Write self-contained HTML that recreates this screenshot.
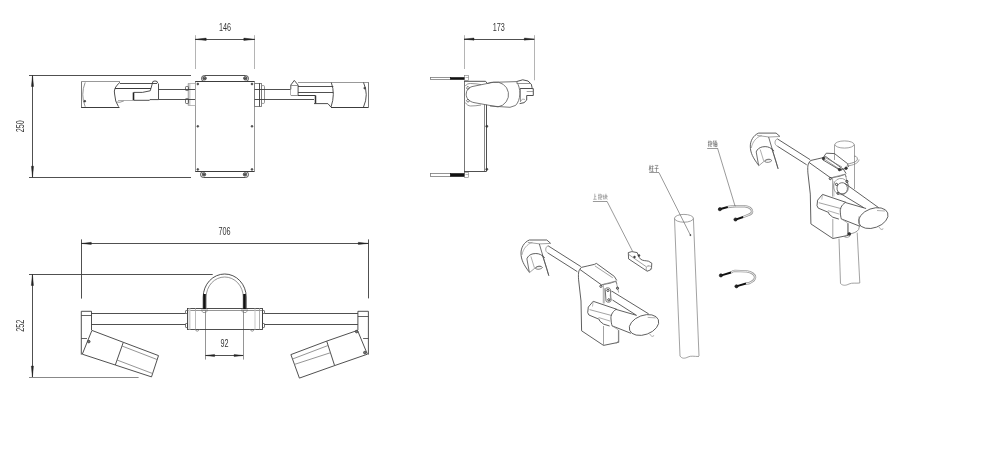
<!DOCTYPE html>
<html><head><meta charset="utf-8"><style>
html,body{margin:0;padding:0;background:#fff;}
svg{display:block;}
text{filter:grayscale(100%);}
</style></head><body>
<svg width="982" height="453" viewBox="0 0 982 453">
<rect width="982" height="453" fill="#fff"/>
<line x1="29" y1="75.5" x2="191" y2="75.5" stroke="#3c3c3c" stroke-width="0.9"/>
<line x1="29" y1="177.5" x2="191" y2="177.5" stroke="#3c3c3c" stroke-width="0.9"/>
<line x1="32.5" y1="75.5" x2="32.5" y2="177.2" stroke="#3c3c3c" stroke-width="0.9"/>
<path d="M32.5,75.5 L33.60,86.50 L31.40,86.50 Z" fill="#222" stroke="#222" stroke-width="0.4"/>
<path d="M32.5,177.2 L31.40,166.20 L33.60,166.20 Z" fill="#222" stroke="#222" stroke-width="0.4"/>
<text transform="translate(23.8,126.3) rotate(-90) scale(0.66,1)" font-family="Liberation Sans" font-size="11" text-anchor="middle" fill="#333" opacity="0.99">250</text>
<line x1="195.5" y1="35.2" x2="195.5" y2="69" stroke="#b4b4b4" stroke-width="1"/>
<line x1="254.5" y1="35.2" x2="254.5" y2="69" stroke="#b4b4b4" stroke-width="1"/>
<line x1="195.2" y1="39.5" x2="254.8" y2="39.5" stroke="#3c3c3c" stroke-width="0.9"/>
<path d="M195.2,39.3 L206.20,38.10 L206.20,40.50 Z" fill="#222" stroke="#222" stroke-width="0.4"/>
<path d="M254.8,39.3 L243.80,40.50 L243.80,38.10 Z" fill="#222" stroke="#222" stroke-width="0.4"/>
<text transform="translate(225,31.4) rotate(0.01) scale(0.66,1)" font-family="Liberation Sans" font-size="11" text-anchor="middle" fill="#333" opacity="0.99">146</text>
<line x1="195.5" y1="81.6" x2="195.5" y2="171.3" stroke="#9a9a9a" stroke-width="1"/>
<line x1="254.5" y1="81.6" x2="254.5" y2="171.3" stroke="#9a9a9a" stroke-width="1"/>
<line x1="195.2" y1="81.5" x2="254.6" y2="81.5" stroke="#3c3c3c" stroke-width="1"/>
<line x1="195.2" y1="171.5" x2="254.6" y2="171.5" stroke="#3c3c3c" stroke-width="1"/>
<rect x="201.5" y="75.5" width="47.0" height="6.0" rx="3" stroke="#3c3c3c" stroke-width="0.9" fill="none"/>
<rect x="200.5" y="171.5" width="48.0" height="6.0" rx="3" stroke="#3c3c3c" stroke-width="0.9" fill="none"/>
<circle cx="204.6" cy="78.3" r="1.7" stroke="#333" stroke-width="0.8" fill="#888"/>
<line x1="203.5" y1="78.5" x2="205.7" y2="78.5" stroke="#222" stroke-width="0.6"/>
<circle cx="245.3" cy="78.3" r="1.7" stroke="#333" stroke-width="0.8" fill="#888"/>
<line x1="244.20000000000002" y1="78.5" x2="246.4" y2="78.5" stroke="#222" stroke-width="0.6"/>
<circle cx="204" cy="174.4" r="1.7" stroke="#333" stroke-width="0.8" fill="#888"/>
<line x1="202.9" y1="174.5" x2="205.1" y2="174.5" stroke="#222" stroke-width="0.6"/>
<circle cx="245" cy="174.4" r="1.7" stroke="#333" stroke-width="0.8" fill="#888"/>
<line x1="243.9" y1="174.5" x2="246.1" y2="174.5" stroke="#222" stroke-width="0.6"/>
<circle cx="197.8" cy="84" r="0.9" stroke="#3c3c3c" stroke-width="0.7" fill="#555"/>
<circle cx="252" cy="84" r="0.9" stroke="#3c3c3c" stroke-width="0.7" fill="#555"/>
<circle cx="197.8" cy="126.3" r="0.9" stroke="#3c3c3c" stroke-width="0.7" fill="#555"/>
<circle cx="252" cy="126.3" r="0.9" stroke="#3c3c3c" stroke-width="0.7" fill="#555"/>
<circle cx="197.8" cy="169.4" r="0.9" stroke="#3c3c3c" stroke-width="0.7" fill="#555"/>
<circle cx="252" cy="169.4" r="0.9" stroke="#3c3c3c" stroke-width="0.7" fill="#555"/>
<rect x="187.5" y="83.5" width="3.0" height="22.0" rx="0" stroke="#ccc" stroke-width="0" fill="#cfcfcf"/>
<rect x="188.5" y="83.5" width="7.0" height="22.0" rx="0" stroke="#aaa" stroke-width="0.8" fill="none"/>
<rect x="185.5" y="86.5" width="3.0" height="4.0" rx="0.8" stroke="#3c3c3c" stroke-width="0.7" fill="none"/>
<rect x="185.5" y="98.5" width="3.0" height="5.0" rx="0.8" stroke="#3c3c3c" stroke-width="0.7" fill="none"/>
<rect x="254.5" y="83.5" width="7.0" height="23.0" rx="0" stroke="#7a7a7a" stroke-width="0.9" fill="none"/>
<line x1="259.5" y1="83.2" x2="259.5" y2="106.5" stroke="#3c3c3c" stroke-width="0.9"/>
<rect x="261.5" y="85.5" width="3.0" height="18.0" rx="1.2" stroke="#7a7a7a" stroke-width="0.8" fill="none"/>
<line x1="158.6" y1="89.5" x2="195" y2="89.5" stroke="#3c3c3c" stroke-width="0.9"/>
<line x1="158.6" y1="99.5" x2="195" y2="99.5" stroke="#3c3c3c" stroke-width="0.9"/>
<line x1="254.6" y1="89.5" x2="290.8" y2="89.5" stroke="#3c3c3c" stroke-width="0.9"/>
<line x1="254.6" y1="99.5" x2="314" y2="99.5" stroke="#3c3c3c" stroke-width="0.9"/>
<line x1="81.5" y1="81.6" x2="81.5" y2="107.3" stroke="#7a7a7a" stroke-width="1"/>
<line x1="81.1" y1="81.5" x2="120" y2="81.5" stroke="#999" stroke-width="1"/>
<line x1="81.1" y1="107.5" x2="119.5" y2="107.5" stroke="#3c3c3c" stroke-width="1"/>
<path d="M85.2,82.4 Q80.3,94.5 85.2,106.8" stroke="#7a7a7a" stroke-width="0.8" fill="none"/>
<circle cx="84.8" cy="101.2" r="0.9" stroke="#3c3c3c" stroke-width="0.7" fill="#444"/>
<path d="M120,82.3 Q113,88 114.6,94 Q115,102 118.5,106.7" stroke="#3c3c3c" stroke-width="0.9" fill="none"/>
<path d="M116,102 Q120,103 123.9,100.9" stroke="#7a7a7a" stroke-width="0.8" fill="none"/>
<line x1="120" y1="83.5" x2="157.1" y2="83.5" stroke="#3c3c3c" stroke-width="0.9"/>
<line x1="115" y1="88.5" x2="151" y2="88.5" stroke="#3c3c3c" stroke-width="1"/>
<path d="M151,88.3 L152.9,81.5 Q155,80.4 157.1,81.5 L157.6,83.1" stroke="#3c3c3c" stroke-width="0.9" fill="none"/>
<line x1="158.5" y1="83.5" x2="158.5" y2="99.6" stroke="#3c3c3c" stroke-width="0.9"/>
<path d="M133.6,92.4 L142.4,92.4 L150.2,90.8 L151,88.3" stroke="#3c3c3c" stroke-width="0.9" fill="none"/>
<line x1="133.5" y1="92.4" x2="133.5" y2="100.3" stroke="#222" stroke-width="1.6"/>
<path d="M133.6,100.3 L149.4,100.3 L149.9,99.6 L158.6,99.6" stroke="#3c3c3c" stroke-width="0.9" fill="none"/>
<line x1="118" y1="100.5" x2="133.6" y2="100.5" stroke="#999" stroke-width="0.8"/>
<path d="M290.8,89.3 L290.8,85 L294.3,80.4 L298.1,85 L298.1,95.3" stroke="#3c3c3c" stroke-width="0.9" fill="none"/>
<line x1="290.8" y1="85.5" x2="298.1" y2="85.5" stroke="#7a7a7a" stroke-width="0.8"/>
<line x1="290.5" y1="89.3" x2="290.5" y2="95.1" stroke="#999" stroke-width="0.8"/>
<line x1="290.8" y1="95.5" x2="298" y2="95.5" stroke="#7a7a7a" stroke-width="0.8"/>
<line x1="298" y1="95.5" x2="315.5" y2="95.5" stroke="#3c3c3c" stroke-width="1"/>
<line x1="315.5" y1="95.5" x2="315.5" y2="103.6" stroke="#333" stroke-width="1.5"/>
<path d="M314,103.6 L327.9,103.6 L331,107.2" stroke="#3c3c3c" stroke-width="0.9" fill="none"/>
<line x1="298" y1="82.5" x2="368.6" y2="82.5" stroke="#999" stroke-width="1.2"/>
<line x1="298" y1="86.5" x2="333.3" y2="86.5" stroke="#3c3c3c" stroke-width="0.9"/>
<line x1="298" y1="92.5" x2="333.3" y2="92.5" stroke="#3c3c3c" stroke-width="0.9"/>
<path d="M331.3,82.5 Q335.5,94 331,107" stroke="#3c3c3c" stroke-width="0.9" fill="none"/>
<line x1="331" y1="107.5" x2="368.6" y2="107.5" stroke="#3c3c3c" stroke-width="1"/>
<line x1="368.5" y1="82.2" x2="368.5" y2="107.5" stroke="#7a7a7a" stroke-width="1"/>
<path d="M363.5,82.5 Q369,94.6 363.5,107" stroke="#3c3c3c" stroke-width="0.9" fill="none"/>
<circle cx="364.7" cy="88.1" r="0.9" stroke="#3c3c3c" stroke-width="0.7" fill="#444"/>
<line x1="464.5" y1="35.2" x2="464.5" y2="69" stroke="#b4b4b4" stroke-width="1"/>
<line x1="534.5" y1="35.2" x2="534.5" y2="80.3" stroke="#b4b4b4" stroke-width="1"/>
<line x1="464" y1="39.5" x2="534.3" y2="39.5" stroke="#3c3c3c" stroke-width="0.9"/>
<path d="M464,39.1 L474.00,38.00 L474.00,40.20 Z" fill="#222" stroke="#222" stroke-width="0.4"/>
<path d="M534.3,39.1 L524.30,40.20 L524.30,38.00 Z" fill="#222" stroke="#222" stroke-width="0.4"/>
<text transform="translate(498.7,31.4) rotate(0.01) scale(0.66,1)" font-family="Liberation Sans" font-size="11" text-anchor="middle" fill="#333" opacity="0.99">173</text>
<line x1="464.5" y1="81" x2="464.5" y2="174" stroke="#777" stroke-width="1"/>
<line x1="484.5" y1="104.7" x2="484.5" y2="171.3" stroke="#7a7a7a" stroke-width="0.9"/>
<line x1="486.5" y1="104.7" x2="486.5" y2="171.3" stroke="#3c3c3c" stroke-width="0.9"/>
<line x1="464.1" y1="171.5" x2="486.6" y2="171.5" stroke="#3c3c3c" stroke-width="0.9"/>
<circle cx="486.8" cy="126.3" r="1.1" stroke="#333" stroke-width="0.5" fill="#333"/>
<circle cx="486.8" cy="169.3" r="1.1" stroke="#333" stroke-width="0.5" fill="#333"/>
<rect x="430.5" y="77.5" width="20.0" height="2.0" rx="0" stroke="#7a7a7a" stroke-width="0.8" fill="none"/>
<rect x="450.5" y="77.5" width="14.0" height="2.0" rx="0" stroke="#111" stroke-width="0.6" fill="#111"/>
<rect x="430.5" y="173.5" width="20.0" height="3.0" rx="0" stroke="#7a7a7a" stroke-width="0.8" fill="none"/>
<rect x="450.5" y="173.5" width="14.0" height="3.0" rx="0" stroke="#111" stroke-width="0.6" fill="#111"/>
<rect x="464.5" y="75.5" width="4.0" height="5.0" rx="0" stroke="#7a7a7a" stroke-width="0.6" fill="none"/>
<line x1="465.5" y1="77.5" x2="468.5" y2="77.5" stroke="#7a7a7a" stroke-width="0.5"/>
<rect x="464.5" y="172.5" width="4.0" height="5.0" rx="0" stroke="#7a7a7a" stroke-width="0.6" fill="none"/>
<line x1="465.5" y1="174.5" x2="468.5" y2="174.5" stroke="#7a7a7a" stroke-width="0.5"/>
<path d="M464.1,81.3 L485.6,81.3 L487.4,83.5" stroke="#3c3c3c" stroke-width="0.9" fill="none"/>
<path d="M465.3,86.1 C466.5,84 468.5,83.5 470.6,83.5 C474,83.5 478,84 481,84.6" stroke="#7a7a7a" stroke-width="0.8" fill="none"/>
<path d="M465.3,102.5 C466.5,104.5 468.5,106 470.6,106 C474,106 478,105.6 481,105" stroke="#7a7a7a" stroke-width="0.8" fill="none"/>
<path d="M468,86.3 L469.6,87.9 L468,89.5 L466.4,87.9 Z" stroke="#333" stroke-width="0.7" fill="none"/>
<path d="M468,99.1 L469.6,100.7 L468,102.3 L466.4,100.7 Z" stroke="#333" stroke-width="0.7" fill="none"/>
<path d="M493.6,82.2 A12.6,12.4 0 0 1 498,106.9 L474,102.6 C469,101.5 466.2,98.5 466.2,94.1 C466.2,90 469,87.3 472,86.6 Z" stroke="#555" stroke-width="0.8" fill="none"/>
<path d="M487.4,83.5 L491,82.4 L516.5,81.6 C518.8,85 519.9,89 519.8,94 C519.6,99 518.3,102.5 515.6,105.4 L510,107.3 L490,106" stroke="#555" stroke-width="0.8" fill="none"/>
<path d="M516.5,81.6 L522.7,79.8 L528,81 L531.3,84.2 L532,87.3 L532,88.6 L533.3,88.6 L533.3,95.5 L526.7,95.5 L526.7,100.1 L524,102.7 L519.6,103.6" stroke="#3c3c3c" stroke-width="0.9" fill="none"/>
<line x1="516.5" y1="83.5" x2="530.7" y2="83.5" stroke="#7a7a7a" stroke-width="0.8"/>
<line x1="520" y1="88.5" x2="532" y2="88.5" stroke="#3c3c3c" stroke-width="0.9"/>
<line x1="526.7" y1="91.5" x2="533.3" y2="91.5" stroke="#7a7a7a" stroke-width="0.7"/>
<line x1="520.5" y1="88.6" x2="520.5" y2="101.9" stroke="#7a7a7a" stroke-width="0.8"/>
<path d="M520.5,101.5 L522.5,99 L525,99.5" stroke="#7a7a7a" stroke-width="0.6" fill="none"/>
<line x1="81.5" y1="239.4" x2="81.5" y2="298.6" stroke="#3c3c3c" stroke-width="0.9"/>
<line x1="368.5" y1="239.4" x2="368.5" y2="298.4" stroke="#3c3c3c" stroke-width="0.9"/>
<line x1="81.3" y1="243.5" x2="368.3" y2="243.5" stroke="#3c3c3c" stroke-width="0.9"/>
<path d="M81.3,243.4 L91.30,242.30 L91.30,244.50 Z" fill="#222" stroke="#222" stroke-width="0.4"/>
<path d="M368.3,243.4 L358.30,244.50 L358.30,242.30 Z" fill="#222" stroke="#222" stroke-width="0.4"/>
<text transform="translate(224.5,235.0) rotate(0.01) scale(0.66,1)" font-family="Liberation Sans" font-size="11" text-anchor="middle" fill="#333" opacity="0.99">706</text>
<line x1="29" y1="274.5" x2="212.7" y2="274.5" stroke="#3c3c3c" stroke-width="0.9"/>
<line x1="29" y1="377.5" x2="138.6" y2="377.5" stroke="#7a7a7a" stroke-width="0.9"/>
<line x1="32.5" y1="274.5" x2="32.5" y2="377" stroke="#3c3c3c" stroke-width="0.9"/>
<path d="M32.4,274.5 L33.50,285.50 L31.30,285.50 Z" fill="#222" stroke="#222" stroke-width="0.4"/>
<path d="M32.4,377 L31.30,366.00 L33.50,366.00 Z" fill="#222" stroke="#222" stroke-width="0.4"/>
<text transform="translate(24.2,325.8) rotate(-90) scale(0.66,1)" font-family="Liberation Sans" font-size="11" text-anchor="middle" fill="#333" opacity="0.99">252</text>
<line x1="205.5" y1="310" x2="205.5" y2="359.6" stroke="#7a7a7a" stroke-width="0.8"/>
<line x1="243.5" y1="310" x2="243.5" y2="359.6" stroke="#7a7a7a" stroke-width="0.8"/>
<line x1="205.6" y1="355.5" x2="243.1" y2="355.5" stroke="#3c3c3c" stroke-width="0.9"/>
<path d="M205.6,355.5 L214.60,354.40 L214.60,356.60 Z" fill="#222" stroke="#222" stroke-width="0.4"/>
<path d="M243.1,355.5 L234.10,356.60 L234.10,354.40 Z" fill="#222" stroke="#222" stroke-width="0.4"/>
<text transform="translate(224.6,346.9) rotate(0.01) scale(0.66,1)" font-family="Liberation Sans" font-size="11" text-anchor="middle" fill="#333" opacity="0.99">92</text>
<rect x="187.5" y="308.5" width="75.0" height="21.0" rx="0" stroke="#3c3c3c" stroke-width="0.9" fill="none"/>
<line x1="187.6" y1="310.5" x2="262.2" y2="310.5" stroke="#7a7a7a" stroke-width="0.8"/>
<rect x="188.5" y="308.5" width="2.0" height="21.0" rx="0" stroke="#ccc" stroke-width="0" fill="#d2d2d2"/>
<line x1="195.5" y1="308.2" x2="195.5" y2="329.4" stroke="#aaa" stroke-width="0.8"/>
<rect x="254.5" y="308.5" width="1.0" height="21.0" rx="0" stroke="#ccc" stroke-width="0" fill="#c8c8c8"/>
<line x1="259.5" y1="308.2" x2="259.5" y2="329.4" stroke="#999" stroke-width="0.8"/>
<path d="M195,329.4 Q197.2,333 199.5,329.4" stroke="#7a7a7a" stroke-width="0.8" fill="none"/>
<path d="M250,329.4 Q252.2,333 254.5,329.4" stroke="#7a7a7a" stroke-width="0.8" fill="none"/>
<path d="M203.2,309 L203.2,297 A21.5,23 0 0 1 246.2,297 L246.2,309" stroke="#3c3c3c" stroke-width="0.9" fill="none"/>
<path d="M206.2,309 L206.2,297 A18.5,20 0 0 1 243.2,297 L243.2,309" stroke="#7a7a7a" stroke-width="0.8" fill="none"/>
<line x1="204.5" y1="294" x2="204.5" y2="309" stroke="#111" stroke-width="2.6"/>
<line x1="244.5" y1="294" x2="244.5" y2="309" stroke="#111" stroke-width="2.6"/>
<path d="M201,310 L208,310 L206,312.5 L203,312.5 Z" stroke="#7a7a7a" stroke-width="0.7" fill="none"/>
<path d="M241,310 L248,310 L246,312.5 L243,312.5 Z" stroke="#7a7a7a" stroke-width="0.7" fill="none"/>
<rect x="185.5" y="310.5" width="2.0" height="3.0" rx="0.6" stroke="#3c3c3c" stroke-width="0.7" fill="none"/>
<rect x="185.5" y="323.5" width="2.0" height="4.0" rx="0.6" stroke="#3c3c3c" stroke-width="0.7" fill="none"/>
<rect x="262.5" y="310.5" width="2.0" height="3.0" rx="0.6" stroke="#3c3c3c" stroke-width="0.7" fill="none"/>
<rect x="262.5" y="323.5" width="2.0" height="4.0" rx="0.6" stroke="#3c3c3c" stroke-width="0.7" fill="none"/>
<line x1="262.5" y1="313.6" x2="262.5" y2="323.2" stroke="#3c3c3c" stroke-width="0.8"/>
<line x1="91.5" y1="313.5" x2="185.6" y2="313.5" stroke="#3c3c3c" stroke-width="0.9"/>
<line x1="91.5" y1="324.5" x2="185.6" y2="324.5" stroke="#3c3c3c" stroke-width="0.9"/>
<line x1="264.4" y1="313.5" x2="357.9" y2="313.5" stroke="#3c3c3c" stroke-width="0.9"/>
<line x1="264.4" y1="324.5" x2="357.9" y2="324.5" stroke="#3c3c3c" stroke-width="0.9"/>
<path d="M81.3,354.6 L81.3,311.3 L91.5,311.3 L91.5,330" stroke="#3c3c3c" stroke-width="0.9" fill="none"/>
<line x1="81.3" y1="315.5" x2="91.5" y2="315.5" stroke="#3c3c3c" stroke-width="0.8"/>
<line x1="81.3" y1="338.5" x2="87" y2="338.5" stroke="#3c3c3c" stroke-width="0.8"/>
<path d="M91.9,330.4 L123.3,342.3 L115.3,365 L82.3,354.2 Z" stroke="#3c3c3c" stroke-width="0.9" fill="none"/>
<path d="M123.3,342.3 L158.5,355.6 L151.5,376.9 L115.3,365" stroke="#3c3c3c" stroke-width="0.9" fill="none"/>
<line x1="122" y1="346" x2="157" y2="359.5" stroke="#7a7a7a" stroke-width="0.8"/>
<line x1="117" y1="360" x2="152.5" y2="373.5" stroke="#7a7a7a" stroke-width="0.8"/>
<circle cx="88.8" cy="341.6" r="1.3" stroke="#333" stroke-width="0.7" fill="#777"/>
<path d="M368.4,354.6 L368.4,311.3 L357.9,311.3 L357.9,330" stroke="#3c3c3c" stroke-width="0.9" fill="none"/>
<line x1="357.9" y1="316.5" x2="368.4" y2="316.5" stroke="#3c3c3c" stroke-width="0.8"/>
<line x1="363.1" y1="338.5" x2="368.4" y2="338.5" stroke="#3c3c3c" stroke-width="0.8"/>
<path d="M357.5,330.4 L367.4,354.2 L334.6,365.6 L326.7,341.1 Z" stroke="#3c3c3c" stroke-width="0.9" fill="none"/>
<path d="M326.7,341.1 L290.9,354.6 L299.4,378.1 L334.6,365.6" stroke="#3c3c3c" stroke-width="0.9" fill="none"/>
<line x1="292.5" y1="359" x2="328" y2="345.5" stroke="#7a7a7a" stroke-width="0.8"/>
<line x1="294.2" y1="364.5" x2="330.8" y2="352.6" stroke="#7a7a7a" stroke-width="0.8"/>
<circle cx="356.6" cy="331.6" r="1.3" stroke="#333" stroke-width="0.7" fill="#777"/>
<circle cx="364.8" cy="352.6" r="1.3" stroke="#333" stroke-width="0.7" fill="#777"/>
<path d="M529.4,240 L546.8,240 L550.7,243.4" stroke="#4e4e4e" stroke-width="0.9" fill="none"/>
<path d="M527.9,242.4 L539.8,243.9 L550.7,243.4" stroke="#8c8c8c" stroke-width="0.8" fill="none"/>
<path d="M529.4,240 C524,242 521,248 521,253 C521,260 524,265 528.9,271.7" stroke="#4e4e4e" stroke-width="0.9" fill="none"/>
<path d="M532.4,242.4 C527,244 523,249 522,254.9" stroke="#8c8c8c" stroke-width="0.7" fill="none"/>
<path d="M526.9,258.8 C528,256 530,254.5 533,253.8 C537,253 540,254 542,255.5 L544.8,257.8" stroke="#4e4e4e" stroke-width="0.9" fill="none"/>
<path d="M526.9,258.8 L529.4,272.7" stroke="#4e4e4e" stroke-width="0.8" fill="none"/>
<path d="M530.9,256.4 L534.4,267.8" stroke="#8c8c8c" stroke-width="0.7" fill="none"/>
<path d="M529.4,272.7 L536.4,266.8 L541,266.5" stroke="#8c8c8c" stroke-width="0.8" fill="none"/>
<path d="M535.5,268.5 C537,265.5 541,265.5 542.5,267.5 C541,269.5 537,269.8 535.5,268.5" stroke="#4e4e4e" stroke-width="0.7" fill="none"/>
<path d="M539.3,243.9 L548.8,275.7" stroke="#4e4e4e" stroke-width="0.8" fill="none"/>
<path d="M542.3,254.9 L546.8,268.8 L548.8,275.7" stroke="#4e4e4e" stroke-width="0.7" fill="none"/>
<path d="M548.1,245.8 C545.3,246.6 544.6,251.6 548.1,253.1" stroke="#8c8c8c" stroke-width="0.8" fill="none"/>
<path d="M548.1,245.8 L580.9,266.6" stroke="#4e4e4e" stroke-width="0.9" fill="none"/>
<path d="M548.1,253.1 L577.4,271.7" stroke="#4e4e4e" stroke-width="0.9" fill="none"/>
<path d="M579.8,269.4 L581.3,267.4 L587.8,265.9 L594.4,264.4 L596.4,263.4 L614.3,276.4 L616.8,280.5" stroke="#4e4e4e" stroke-width="0.9" fill="none"/>
<path d="M594.9,265.9 L612.8,277.8" stroke="#8c8c8c" stroke-width="0.8" fill="none"/>
<path d="M579.8,269.4 L601.4,284.8" stroke="#4e4e4e" stroke-width="0.9" fill="none"/>
<path d="M601.4,284.8 L609.8,283.3 L615.8,281.3 L616.8,283.8" stroke="#4e4e4e" stroke-width="0.8" fill="none"/>
<path d="M579.8,269.4 C578.5,271 578.2,274 578.6,279.8 L581,301 L581.6,330.8" stroke="#4e4e4e" stroke-width="0.9" fill="none"/>
<path d="M581.6,330.8 L603.5,345.4 L618.7,342.3 L618.7,330.2" stroke="#4e4e4e" stroke-width="0.9" fill="none"/>
<path d="M603.5,345.4 L603.5,326" stroke="#8c8c8c" stroke-width="0.8" fill="none"/>
<path d="M603.3,284.3 L603.3,303.5" stroke="#8c8c8c" stroke-width="0.8" fill="none"/>
<path d="M604.6,288 L604.6,303.5" stroke="#b4b4b4" stroke-width="0.8" fill="none"/>
<path d="M603.3,284.3 L616,281 L618.7,292.6" stroke="#8c8c8c" stroke-width="0.8" fill="none"/>
<path d="M605.2,289.5 C605.2,287.5 609.5,287.3 610.3,289.2 L611,300.5 C611,302.5 606.5,302.8 606,300.8 Z" stroke="#4e4e4e" stroke-width="0.8" fill="none"/>
<path d="M611.5,291.2 C609.8,293.5 609.8,297.5 611.5,299.8" stroke="#8c8c8c" stroke-width="0.7" fill="none"/>
<path d="M606.8,290.4 a1.1,1.1 0 1 0 2.2,0 a1.1,1.1 0 1 0 -2.2,0 Z" stroke="#222" stroke-width="0.8" fill="none"/>
<path d="M607.6999999999999,299.8 a1.1,1.1 0 1 0 2.2,0 a1.1,1.1 0 1 0 -2.2,0 Z" stroke="#222" stroke-width="0.8" fill="none"/>
<path d="M616.4,288.2 a1.1,1.1 0 1 0 2.2,0 a1.1,1.1 0 1 0 -2.2,0 Z" stroke="#222" stroke-width="0.8" fill="none"/>
<path d="M599.8,286.3 a1.1,1.1 0 1 0 2.2,0 a1.1,1.1 0 1 0 -2.2,0 Z" stroke="#222" stroke-width="0.8" fill="none"/>
<path d="M611.6,291 L648.7,313.9" stroke="#4e4e4e" stroke-width="0.9" fill="none"/>
<path d="M612.5,300 L635.8,314.9" stroke="#4e4e4e" stroke-width="0.9" fill="none"/>
<path d="M588.3,307.1 L593.2,301.3 L616.8,309.3" stroke="#4e4e4e" stroke-width="0.9" fill="none"/>
<path d="M588.3,307.1 L587.7,312.6 L588.9,315 L599.2,319.3 L599.8,321.1 L603.5,324.1 L609.6,326" stroke="#4e4e4e" stroke-width="0.9" fill="none"/>
<path d="M589.5,309.6 L612,315.6" stroke="#8c8c8c" stroke-width="0.8" fill="none"/>
<path d="M598.6,317.5 L610.2,321.1" stroke="#8c8c8c" stroke-width="0.7" fill="none"/>
<path d="M593.2,301.3 L592.5,306.5" stroke="#8c8c8c" stroke-width="0.6" fill="none"/>
<path d="M616,309.4 L636.8,315.4" stroke="#4e4e4e" stroke-width="0.9" fill="none"/>
<path d="M616,309.4 C612,312 610.5,316 611,319 C611.2,322 611.5,324 612,325.8 L630.9,333.3" stroke="#4e4e4e" stroke-width="0.9" fill="none"/>
<path d="M612,325.8 L618,329.6" stroke="#8c8c8c" stroke-width="0.7" fill="none"/>
<path d="M658.38,319.77 A15.3,9.6 -20 1 1 629.62,330.23 A15.3,9.6 -20 1 1 658.38,319.77 Z" stroke="#4e4e4e" stroke-width="0.9" fill="none"/>
<path d="M647.7,317.4 L655.7,317.9" stroke="#8c8c8c" stroke-width="0.7" fill="none"/>
<path d="M649.7,333.8 C651,337 654,337 653.7,335.3" stroke="#8c8c8c" stroke-width="0.7" fill="none"/>
<path d="M618.4,329.8 L618.4,340.7 L616,343.7" stroke="#8c8c8c" stroke-width="0.7" fill="none"/>
<g transform="translate(229.3,-106.9)">
<path d="M529.4,240 L546.8,240 L550.7,243.4" stroke="#4e4e4e" stroke-width="0.9" fill="none"/>
<path d="M527.9,242.4 L539.8,243.9 L550.7,243.4" stroke="#8c8c8c" stroke-width="0.8" fill="none"/>
<path d="M529.4,240 C524,242 521,248 521,253 C521,260 524,265 528.9,271.7" stroke="#4e4e4e" stroke-width="0.9" fill="none"/>
<path d="M532.4,242.4 C527,244 523,249 522,254.9" stroke="#8c8c8c" stroke-width="0.7" fill="none"/>
<path d="M526.9,258.8 C528,256 530,254.5 533,253.8 C537,253 540,254 542,255.5 L544.8,257.8" stroke="#4e4e4e" stroke-width="0.9" fill="none"/>
<path d="M526.9,258.8 L529.4,272.7" stroke="#4e4e4e" stroke-width="0.8" fill="none"/>
<path d="M530.9,256.4 L534.4,267.8" stroke="#8c8c8c" stroke-width="0.7" fill="none"/>
<path d="M529.4,272.7 L536.4,266.8 L541,266.5" stroke="#8c8c8c" stroke-width="0.8" fill="none"/>
<path d="M535.5,268.5 C537,265.5 541,265.5 542.5,267.5 C541,269.5 537,269.8 535.5,268.5" stroke="#4e4e4e" stroke-width="0.7" fill="none"/>
<path d="M539.3,243.9 L548.8,275.7" stroke="#4e4e4e" stroke-width="0.8" fill="none"/>
<path d="M542.3,254.9 L546.8,268.8 L548.8,275.7" stroke="#4e4e4e" stroke-width="0.7" fill="none"/>
<path d="M548.1,245.8 C545.3,246.6 544.6,251.6 548.1,253.1" stroke="#8c8c8c" stroke-width="0.8" fill="none"/>
<path d="M548.1,245.8 L580.9,266.6" stroke="#4e4e4e" stroke-width="0.9" fill="none"/>
<path d="M548.1,253.1 L577.4,271.7" stroke="#4e4e4e" stroke-width="0.9" fill="none"/>
<path d="M579.8,269.4 L581.3,267.4 L587.8,265.9 L594.4,264.4 L596.4,263.4 L614.3,276.4 L616.8,280.5" stroke="#4e4e4e" stroke-width="0.9" fill="none"/>
<path d="M594.9,265.9 L612.8,277.8" stroke="#8c8c8c" stroke-width="0.8" fill="none"/>
<path d="M579.8,269.4 L601.4,284.8" stroke="#4e4e4e" stroke-width="0.9" fill="none"/>
<path d="M601.4,284.8 L609.8,283.3 L615.8,281.3 L616.8,283.8" stroke="#4e4e4e" stroke-width="0.8" fill="none"/>
<path d="M579.8,269.4 C578.5,271 578.2,274 578.6,279.8 L581,301 L581.6,330.8" stroke="#4e4e4e" stroke-width="0.9" fill="none"/>
<path d="M581.6,330.8 L603.5,345.4 L618.7,342.3 L618.7,330.2" stroke="#4e4e4e" stroke-width="0.9" fill="none"/>
<path d="M603.5,345.4 L603.5,326" stroke="#8c8c8c" stroke-width="0.8" fill="none"/>
<path d="M603.3,284.3 L603.3,303.5" stroke="#8c8c8c" stroke-width="0.8" fill="none"/>
<path d="M604.6,288 L604.6,303.5" stroke="#b4b4b4" stroke-width="0.8" fill="none"/>
<path d="M603.3,284.3 L616,281 L618.7,292.6" stroke="#8c8c8c" stroke-width="0.8" fill="none"/>
<path d="M613.22,301.58 A8.2,7.6 80 1 1 610.38,285.42 A8.2,7.6 80 1 1 613.22,301.58 Z" stroke="#8c8c8c" stroke-width="0.8" fill="none"/>
<path d="M613.87,300.71 A5.6,5.0 80 1 1 611.93,289.69 A5.6,5.0 80 1 1 613.87,300.71 Z" stroke="#4e4e4e" stroke-width="0.8" fill="none"/>
<path d="M599.9,285.5 a1.1,1.1 0 1 0 2.2,0 a1.1,1.1 0 1 0 -2.2,0 Z" stroke="#222" stroke-width="0.8" fill="none"/>
<path d="M616.5,288.3 a1.1,1.1 0 1 0 2.2,0 a1.1,1.1 0 1 0 -2.2,0 Z" stroke="#222" stroke-width="0.8" fill="none"/>
<path d="M606.1,291.3 a1.1,1.1 0 1 0 2.2,0 a1.1,1.1 0 1 0 -2.2,0 Z" stroke="#222" stroke-width="0.8" fill="none"/>
<path d="M607.6,300.2 a1.1,1.1 0 1 0 2.2,0 a1.1,1.1 0 1 0 -2.2,0 Z" stroke="#222" stroke-width="0.8" fill="none"/>
<path d="M615.6,290.3 L649.4,314.6" stroke="#4e4e4e" stroke-width="0.9" fill="none"/>
<path d="M611.6,300.7 L634.5,314.6" stroke="#4e4e4e" stroke-width="0.9" fill="none"/>
<path d="M588.3,307.1 L593.2,301.3 L616.8,309.3" stroke="#4e4e4e" stroke-width="0.9" fill="none"/>
<path d="M588.3,307.1 L587.7,312.6 L588.9,315 L599.2,319.3 L599.8,321.1 L603.5,324.1 L609.6,326" stroke="#4e4e4e" stroke-width="0.9" fill="none"/>
<path d="M589.5,309.6 L612,315.6" stroke="#8c8c8c" stroke-width="0.8" fill="none"/>
<path d="M598.6,317.5 L610.2,321.1" stroke="#8c8c8c" stroke-width="0.7" fill="none"/>
<path d="M593.2,301.3 L592.5,306.5" stroke="#8c8c8c" stroke-width="0.6" fill="none"/>
<path d="M616,309.4 L636.8,315.4" stroke="#4e4e4e" stroke-width="0.9" fill="none"/>
<path d="M616,309.4 C612,312 610.5,316 611,319 C611.2,322 611.5,324 612,325.8 L630.9,333.3" stroke="#4e4e4e" stroke-width="0.9" fill="none"/>
<path d="M612,325.8 L618,329.6" stroke="#8c8c8c" stroke-width="0.7" fill="none"/>
<path d="M658.38,319.77 A15.3,9.6 -20 1 1 629.62,330.23 A15.3,9.6 -20 1 1 658.38,319.77 Z" stroke="#4e4e4e" stroke-width="0.9" fill="none"/>
<path d="M647.7,317.4 L655.7,317.9" stroke="#8c8c8c" stroke-width="0.7" fill="none"/>
<path d="M649.7,333.8 C651,337 654,337 653.7,335.3" stroke="#8c8c8c" stroke-width="0.7" fill="none"/>
<path d="M618.4,329.8 L618.4,340.7 L616,343.7" stroke="#8c8c8c" stroke-width="0.7" fill="none"/>
</g>
<path d="M834.9,144.5 A9.6,3.6 0 0 1 854.1,144.5 A9.6,3.6 0 0 1 834.9,144.5 Z" stroke="#8a8a8a" stroke-width="0.8" fill="none"/>
<line x1="834.5" y1="144.5" x2="834.5" y2="160" stroke="#8a8a8a" stroke-width="0.8"/>
<line x1="854.5" y1="144.5" x2="854.5" y2="189" stroke="#8a8a8a" stroke-width="0.8"/>
<line x1="839" y1="238.7" x2="840.5" y2="283.5" stroke="#8a8a8a" stroke-width="0.8"/>
<line x1="857.2" y1="232.6" x2="859.8" y2="283" stroke="#8a8a8a" stroke-width="0.8"/>
<path d="M840.5,283.5 C843,286 846,285.5 849,284 C852,282.5 856,283.5 859.8,283" stroke="#8a8a8a" stroke-width="0.8" fill="none"/>
<path d="M824.3,155.9 L826.3,153.2 L834.5,153.6 L847.5,163.6 L848.5,167" stroke="#3c3c3c" stroke-width="0.8" fill="none"/>
<path d="M824.3,155.9 L822.9,159.9 L839.5,169.8 L846,168.5" stroke="#3c3c3c" stroke-width="0.8" fill="none"/>
<path d="M825,157.5 L842,167" stroke="#7a7a7a" stroke-width="0.7" fill="none"/>
<circle cx="839.5" cy="169.6" r="1.3" stroke="#222" stroke-width="0.6" fill="#333"/>
<circle cx="846.1" cy="168.2" r="1.3" stroke="#222" stroke-width="0.6" fill="#333"/>
<circle cx="823.5" cy="158.5" r="1.2" stroke="#222" stroke-width="0.6" fill="#333"/>
<path d="M847.5,164 C853,163 857.5,161.5 857.4,159 C857.2,156.5 855.4,156 854.1,156.2" stroke="#7a7a7a" stroke-width="0.8" fill="none"/>
<path d="M846.5,166 C853,165.5 859,163 859,159.5" stroke="#7a7a7a" stroke-width="0.7" fill="none"/>
<path d="M849.3,234 C853,233.5 857.2,232 858.6,229.5 C859.8,227 859.5,221 859,216.5" stroke="#7a7a7a" stroke-width="0.8" fill="none"/>
<circle cx="849.3" cy="234" r="1.4" stroke="#222" stroke-width="0.6" fill="#333"/>
<path d="M844,236.5 C846,238 849,237.5 850.5,235.5" stroke="#7a7a7a" stroke-width="0.7" fill="none"/>
<path d="M674.5,218.3 A9.45,3.9 0 0 1 693.4,218.3 A9.45,3.9 0 0 1 674.5,218.3 Z" stroke="#8a8a8a" stroke-width="0.8" fill="none"/>
<line x1="674.5" y1="218.3" x2="680" y2="356" stroke="#8a8a8a" stroke-width="0.8"/>
<line x1="693.4" y1="218.3" x2="699" y2="356" stroke="#8a8a8a" stroke-width="0.8"/>
<path d="M680,356 C682,359 685,358.5 688,357 C691,355.5 694,356.5 699,356.5" stroke="#8a8a8a" stroke-width="0.8" fill="none"/>
<path d="M628.3,252.6 L631.9,251.6 L637.2,252.6 C638,254.5 638.5,257 640.6,259.2 C643,261 646,260.5 648.5,261.2 L651.8,263.2 L651.5,267.5 L650.5,269.9 L647.2,271.2 L628.6,258.9 Z" stroke="#3c3c3c" stroke-width="0.8" fill="none"/>
<line x1="628.3" y1="254.2" x2="646.5" y2="266.9" stroke="#7a7a7a" stroke-width="0.7"/>
<path d="M647.2,271.2 C645.5,269 646,266 648.5,265.8" stroke="#7a7a7a" stroke-width="0.7" fill="none"/>
<circle cx="634.5" cy="257" r="0.9" stroke="#333" stroke-width="0.6" fill="#444"/>
<circle cx="639" cy="255.5" r="0.9" stroke="#333" stroke-width="0.6" fill="#444"/>
<path d="M648,266 C651,265.5 652.5,267.5 651.2,269.5" stroke="#7a7a7a" stroke-width="0.7" fill="none"/>
<path d="M727.8,207 C731,206.4 733,206.2 735.5,206.2 L744.8,206.2 C749,206.5 752,209 752.1,211.6 C752,213.5 750,214.5 747.9,215.1 L743.2,217" stroke="#9a9a9a" stroke-width="2.4" fill="none"/>
<path d="M727.8,207 C731,206.4 733,206.2 735.5,206.2 L744.8,206.2 C749,206.5 752,209 752.1,211.6 C752,213.5 750,214.5 747.9,215.1 L743.2,217" stroke="#ffffff" stroke-width="0.8" fill="none"/>
<line x1="720.5" y1="209" x2="727.8" y2="207" stroke="#111" stroke-width="1.9"/>
<line x1="735.5" y1="219.7" x2="743.2" y2="217" stroke="#111" stroke-width="1.9"/>
<circle cx="719.9" cy="209.2" r="1.6" stroke="#111" stroke-width="0.6" fill="#222"/>
<circle cx="735.5" cy="219.5" r="1.6" stroke="#111" stroke-width="0.6" fill="#222"/>
<path d="M731,272.5 C732.5,271.5 733.5,270.9 734.8,270.9 L746.7,271.4 C751.5,272 755,274.5 755.1,277.3 C755,280 752,282 748.7,283.3 L746,283.5" stroke="#9a9a9a" stroke-width="2.4" fill="none"/>
<path d="M731,272.5 C732.5,271.5 733.5,270.9 734.8,270.9 L746.7,271.4 C751.5,272 755,274.5 755.1,277.3 C755,280 752,282 748.7,283.3 L746,283.5" stroke="#ffffff" stroke-width="0.8" fill="none"/>
<line x1="721.5" y1="275.3" x2="731" y2="272.5" stroke="#111" stroke-width="1.9"/>
<line x1="737" y1="286.1" x2="746" y2="283.5" stroke="#111" stroke-width="1.9"/>
<circle cx="720.9" cy="275.4" r="1.6" stroke="#111" stroke-width="0.6" fill="#222"/>
<circle cx="736.5" cy="286.3" r="1.6" stroke="#111" stroke-width="0.6" fill="#222"/>
<line x1="649.2" y1="172.5" x2="659" y2="172.5" stroke="#555" stroke-width="0.6"/>
<line x1="659" y1="172.7" x2="690.4" y2="235.1" stroke="#555" stroke-width="0.6"/>
<circle cx="690.4" cy="235.1" r="0.6" stroke="#333" stroke-width="0.5" fill="#333"/>
<line x1="707.2" y1="148.5" x2="717.5" y2="148.5" stroke="#555" stroke-width="0.6"/>
<line x1="717.5" y1="148.1" x2="735.1" y2="206.2" stroke="#555" stroke-width="0.6"/>
<line x1="592.9" y1="201.5" x2="607" y2="201.5" stroke="#555" stroke-width="0.6"/>
<line x1="607" y1="201.3" x2="632.6" y2="251.3" stroke="#555" stroke-width="0.6"/>
<path d="M649.10,166.94 L651.03,166.94" stroke="#666" stroke-width="0.6" fill="none"/>
<path d="M650.02,164.90 L650.02,171.70" stroke="#666" stroke-width="0.6" fill="none"/>
<path d="M650.02,167.28 L649.10,170.00" stroke="#666" stroke-width="0.6" fill="none"/>
<path d="M650.11,167.96 L650.85,168.98" stroke="#666" stroke-width="0.6" fill="none"/>
<path d="M652.23,164.90 L652.60,165.58" stroke="#666" stroke-width="0.6" fill="none"/>
<path d="M651.17,166.40 L653.70,166.40" stroke="#666" stroke-width="0.6" fill="none"/>
<path d="M651.40,168.71 L653.47,168.71" stroke="#666" stroke-width="0.6" fill="none"/>
<path d="M651.03,171.36 L653.70,171.36" stroke="#666" stroke-width="0.6" fill="none"/>
<path d="M652.41,166.40 L652.41,171.36" stroke="#666" stroke-width="0.6" fill="none"/>
<path d="M654.82,165.44 L657.97,165.44 L656.50,167.28" stroke="#666" stroke-width="0.6" fill="none"/>
<path d="M656.50,167.28 L656.50,171.70 L655.87,171.16" stroke="#666" stroke-width="0.6" fill="none"/>
<path d="M654.40,168.44 L658.60,168.44" stroke="#666" stroke-width="0.6" fill="none"/>
<path d="M707.90,142.40 L709.33,142.40" stroke="#666" stroke-width="0.6" fill="none"/>
<path d="M708.72,140.60 L708.72,146.60 L708.31,146.12" stroke="#666" stroke-width="0.6" fill="none"/>
<path d="M707.90,145.10 L709.46,144.20" stroke="#666" stroke-width="0.6" fill="none"/>
<path d="M710.15,140.60 L709.75,142.40" stroke="#666" stroke-width="0.6" fill="none"/>
<path d="M709.95,141.80 L712.00,141.80 L711.79,144.80 L711.38,144.50" stroke="#666" stroke-width="0.6" fill="none"/>
<path d="M710.15,143.00 L711.18,143.00 L711.18,144.20 L710.15,144.20 L710.15,146.30 L712.00,146.30" stroke="#666" stroke-width="0.6" fill="none"/>
<path d="M713.20,141.20 L714.60,141.20" stroke="#666" stroke-width="0.6" fill="none"/>
<path d="M715.20,141.20 L716.80,141.20" stroke="#666" stroke-width="0.6" fill="none"/>
<path d="M713.80,140.60 L713.40,141.80" stroke="#666" stroke-width="0.6" fill="none"/>
<path d="M715.80,140.60 L715.40,141.80" stroke="#666" stroke-width="0.6" fill="none"/>
<path d="M713.00,143.00 L714.40,143.00" stroke="#666" stroke-width="0.6" fill="none"/>
<path d="M713.80,142.40 L713.80,146.60" stroke="#666" stroke-width="0.6" fill="none"/>
<path d="M714.80,142.70 L717.00,142.70 L717.00,146.60 L714.80,146.60 Z" stroke="#666" stroke-width="0.6" fill="none"/>
<path d="M714.80,144.50 L717.00,144.50" stroke="#666" stroke-width="0.6" fill="none"/>
<path d="M715.88,142.70 L715.88,146.60" stroke="#666" stroke-width="0.6" fill="none"/>
<path d="M594.78,193.70 L594.78,199.30" stroke="#888" stroke-width="0.6" fill="none"/>
<path d="M594.78,196.35 L596.18,196.35" stroke="#888" stroke-width="0.6" fill="none"/>
<path d="M593.20,199.30 L596.70,199.30" stroke="#888" stroke-width="0.6" fill="none"/>
<path d="M598.10,195.47 L599.47,195.47" stroke="#888" stroke-width="0.6" fill="none"/>
<path d="M598.88,193.70 L598.88,199.60 L598.49,199.13" stroke="#888" stroke-width="0.6" fill="none"/>
<path d="M598.10,198.12 L599.58,197.24" stroke="#888" stroke-width="0.6" fill="none"/>
<path d="M600.25,193.70 L599.86,195.47" stroke="#888" stroke-width="0.6" fill="none"/>
<path d="M600.05,194.88 L602.00,194.88 L601.81,197.83 L601.42,197.53" stroke="#888" stroke-width="0.6" fill="none"/>
<path d="M600.25,196.06 L601.22,196.06 L601.22,197.24 L600.25,197.24 L600.25,199.30 L602.00,199.30" stroke="#888" stroke-width="0.6" fill="none"/>
<path d="M602.90,196.35 L604.44,196.35" stroke="#888" stroke-width="0.6" fill="none"/>
<path d="M603.69,194.58 L603.69,198.71" stroke="#888" stroke-width="0.6" fill="none"/>
<path d="M602.90,199.30 L604.66,198.12" stroke="#888" stroke-width="0.6" fill="none"/>
<path d="M604.88,195.76 L607.08,195.76 L607.08,196.94" stroke="#888" stroke-width="0.6" fill="none"/>
<path d="M604.66,196.94 L607.30,196.94" stroke="#888" stroke-width="0.6" fill="none"/>
<path d="M605.89,193.70 L605.89,196.94 L604.88,199.60" stroke="#888" stroke-width="0.6" fill="none"/>
<path d="M606.07,197.36 L607.30,199.60" stroke="#888" stroke-width="0.6" fill="none"/>
</svg>
</body></html>
